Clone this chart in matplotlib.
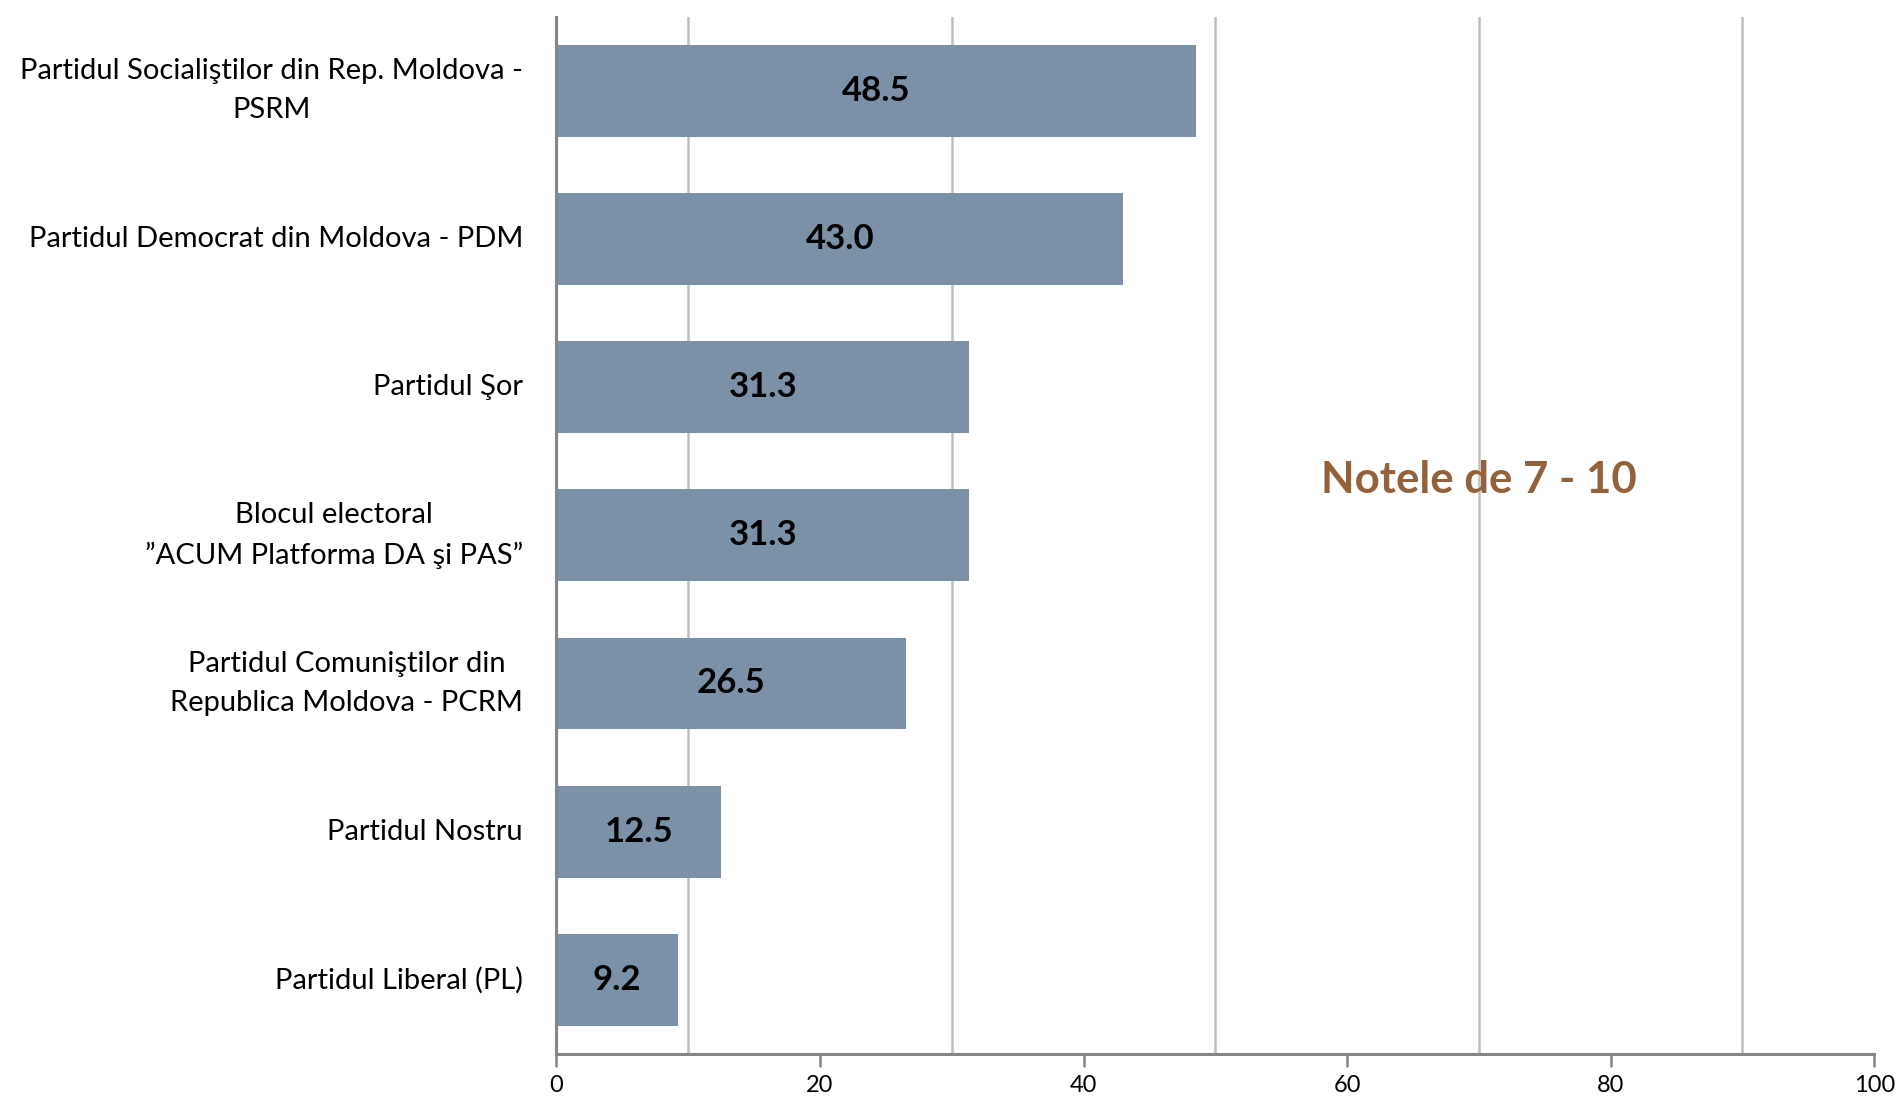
import matplotlib.pyplot as plt
import numpy as np

# data
parties = ['Partidul Socialiştilor din Rep. Moldova -\nPSRM',
           'Partidul Democrat din Moldova - PDM',
           'Partidul Şor',
           'Blocul electoral\n\u201dACUM Platforma DA şi PAS\u201d',
           'Partidul Comuniştilor din\nRepublica Moldova - PCRM',
           'Partidul Nostru',
           'Partidul Liberal (PL)']
scores = [48.5, 43.0, 31.3, 31.3, 26.5, 12.5, 9.2]
xticks = [0, 20, 40, 60, 80, 100]
grid_x = [10, 30, 50, 70, 90]
note = 'Notele de 7 - 10'

plt.rcParams['font.family'] = ['Lato', 'DejaVu Sans']

fig = plt.figure(figsize=(18.97, 10.96), dpi=100)
ax = fig.add_axes([0.2933, 0.0383, 0.6947, 0.9466])

y = np.arange(len(parties))
ax.barh(y, scores, height=0.62, color='#7a91a8', zorder=3)

for gx in grid_x:
    ax.axvline(gx, color='#bfbfbf', lw=1.8, zorder=1)

for yi, v in zip(y, scores):
    ax.text(v / 2, yi, f'{v:.1f}', ha='center', va='center',
            fontsize=25, fontweight='bold', color='black', zorder=4)

ax.set_xlim(0, 100)
ax.set_ylim(len(parties) - 0.5, -0.5)
ax.set_xticks(xticks)
ax.set_yticks(y)
ax.set_yticklabels(parties, fontsize=21, multialignment='center',
                   linespacing=1.6, va='center')
ax.tick_params(axis='y', length=0, pad=24)
ax.tick_params(axis='x', length=9, width=1.8, color='#868686', labelsize=17, pad=6)

for s in ['top', 'right']:
    ax.spines[s].set_visible(False)
for s in ['left', 'bottom']:
    ax.spines[s].set_color('#868686')
    ax.spines[s].set_linewidth(2.2)
    ax.spines[s].set_zorder(5)

ax.text(70, 2.63, note, ha='center', va='center', fontsize=31.5,
        fontweight='bold', color='#93623a', zorder=4)

fig.savefig('out.png', dpi=100)
